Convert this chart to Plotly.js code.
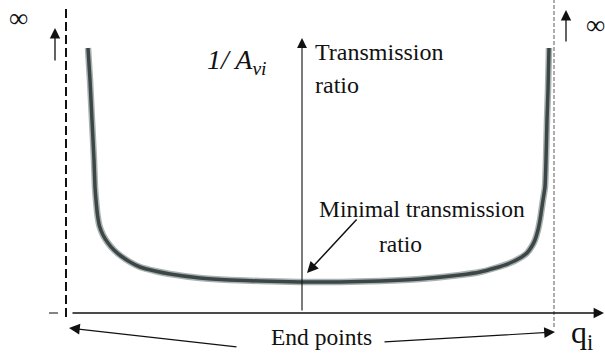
<!DOCTYPE html>
<html>
<head>
<meta charset="utf-8">
<script src="https://cdn.plot.ly/plotly-3.0.1.min.js"></script>
<style>html,body{margin:0;padding:0;background:#fff}</style>
</head>
<body>
<div id="chart"></div>
<script>
// Position along the mechanism (q_i) and transmission ratio 1/A_vi (schematic values)
const qValues = [-214,-212,-210,-208,-207,-206,-204.5,-202.5,-199,-194,-188,-181,-172,-162,-147,-132,-102,-72,-42,-2,38,78,118,158,178,193,208,218,225,230,233,236,238,241,243,244,245,246,247];
const ratioValues = [265,233,193,153,126,113,98,87,78,70,63,57,51,46,42,39,35,33,32,31,31,32,34,38,41,45,50,55,60,67,73,83,93,113,126,153,193,223,265];
const endPointsQ = [-236, 252];
const labels = {
  yName: "<i>1/ A</i><sub><i>vi</i></sub>",
  yTitle1: "Transmission",
  yTitle2: "ratio",
  min1: "Minimal transmission",
  min2: "ratio",
  ends: "End points",
  xName: "q<sub>i</sub>",
  inf: "\u221E"
};

const FONT = "Liberation Serif";

const traces = [
  {x: qValues, y: ratioValues, mode: "lines", line: {color: "rgba(70,82,82,0.45)", width: 6.5, shape: "spline", smoothing: 0.5}, hoverinfo: "skip"},
  {x: qValues, y: ratioValues, mode: "lines", line: {color: "#3b4646", width: 3.5, shape: "spline", smoothing: 0.5}, hoverinfo: "skip"}
];

const shapes = [
  {type: "line", xref: "x", yref: "y", x0: endPointsQ[0], x1: endPointsQ[0], y0: -4, y1: 308, line: {color: "#111", width: 2, dash: "9px,4px"}},
  {type: "line", xref: "x", yref: "y", x0: endPointsQ[1], x1: endPointsQ[1], y0: -14, y1: 313, line: {color: "#777", width: 1.2, dash: "4px,2px"}},
  {type: "line", xref: "x", yref: "y", x0: -253, x1: -244, y0: 0, y1: 0, line: {color: "#333", width: 1.2}}
];

function arrow(x, y, ax, ay, w, s) {
  return {x: x, y: y, ax: ax, ay: ay, xref: "x", yref: "y", axref: "x", ayref: "y", text: "",
    showarrow: true, arrowhead: 2, arrowsize: s || 1.6, arrowwidth: w || 1.3, arrowcolor: "#111", standoff: 0, startstandoff: 0};
}
function txt(t, x, y, size, anchor) {
  return {x: x, y: y, xref: "x", yref: "y", text: t, showarrow: false, xanchor: anchor || "left", yanchor: "middle",
    font: {family: FONT, size: size, color: "#111"}};
}

const annotations = [
  arrow(302, 0, -231, 0, 1.3, 1.6),
  arrow(0, 275, 0, 1, 1.1, 1.8),
  arrow(-247, 285, -247, 251, 1.3, 1.6),
  arrow(264, 303, 264, 270, 1.3, 1.6),
  arrow(5, 40, 56, 95, 1.5, 1.5),
  arrow(-233, -15, -64, -34, 1.2, 1.8),
  arrow(253, -19, 81, -29, 1.2, 1.8),
  txt(labels.inf, -284, 295, 27, "center"),
  txt(labels.inf, 293, 288, 27, "center"),
  txt(labels.yName, -97, 252, 28, "left"),
  txt(labels.yTitle1, 11, 261, 24),
  txt(labels.yTitle2, 11, 228, 24),
  txt(labels.min1, 15, 104, 23.5),
  txt(labels.min2, 75, 69, 23.5),
  txt(labels.ends, -33, -24, 23.5),
  txt(labels.xName, 267, -21, 32)
];

const layout = {
  width: 605, height: 358,
  margin: {l: 0, r: 0, t: 0, b: 0, pad: 0},
  paper_bgcolor: "#fff", plot_bgcolor: "#fff",
  font: {family: FONT, color: "#111"},
  showlegend: false,
  xaxis: {range: [-302, 303], visible: false, fixedrange: true},
  yaxis: {range: [-45, 313], visible: false, fixedrange: true},
  shapes: shapes,
  annotations: annotations
};

Plotly.newPlot("chart", traces, layout, {displayModeBar: false});
</script>
</body>
</html>
